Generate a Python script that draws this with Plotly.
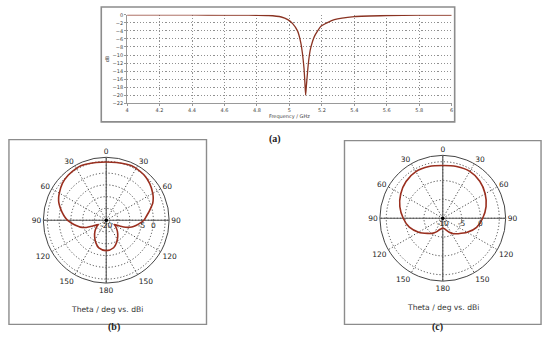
import plotly.graph_objects as go

# ---------------- data ----------------
freq_ghz = [4.0, 4.2, 4.4, 4.6, 4.7, 4.8, 4.87, 4.95, 4.99, 5.02, 5.05, 5.07,
            5.08, 5.09, 5.095, 5.10, 5.105, 5.114, 5.12, 5.13, 5.155, 5.196,
            5.277, 5.4, 5.6, 5.8, 6.0]
s11_db = [-0.02, -0.03, -0.04, -0.06, -0.08, -0.12, -0.18, -0.55, -1.2, -2.2,
          -4.0, -6.9, -9.5, -13.3, -16.5, -20.0, -17.5, -13.3, -11.0, -8.5,
          -5.3, -2.8, -1.2, -0.45, -0.18, -0.1, -0.07]

theta_b = [0, 10, 20, 25, 30, 40, 50, 60, 65, 70, 75, 80, 85, 90, 95, 100, 105,
           110, 113, 116, 118, 121, 125, 135, 145, 155, 165, 180,
           195, 205, 215, 225, 235, 239, 242, 244, 247, 250, 255, 260, 265,
           270, 275, 280, 285, 290, 295, 300, 310, 320, 330, 335, 340, 350, 360]
gain_b = [4.7, 4.9, 5.3, 5.5, 5.4, 5.0, 4.1, 2.8, 2.0, 1.0, -0.5, -1.8, -3.0,
          -4.0, -5.6, -7.2, -8.8, -11.2, -13.5, -15.5, -16.2, -15.6, -15.0,
          -13.3, -11.5, -9.6, -7.9, -7.1,
          -7.8, -9.5, -11.4, -13.2, -15.0, -15.7, -16.2, -15.5, -13.5, -11.0,
          -8.6, -7.0, -5.3, -3.5, -2.2, -1.0, 0.2, 1.4, 2.3, 3.0, 4.3, 5.0,
          5.4, 5.5, 5.3, 4.9, 4.7]

theta_c = [0, 15, 30, 45, 60, 75, 90, 105, 120, 135, 145, 155, 165, 172, 180,
           188, 195, 205, 215, 225, 240, 255, 270, 285, 300, 315, 330, 345, 360]
gain_c = [4.0, 4.2, 4.35, 3.9, 3.0, 1.9, 0.6, -0.7, -2.5, -4.2, -5.0, -5.9,
          -6.8, -7.2, -7.4, -7.2, -6.9, -6.0, -5.1, -4.3, -2.6, -0.8, 0.5,
          1.8, 2.9, 3.8, 4.3, 4.2, 4.0]

angle_tickvals = [0, 30, 60, 90, 120, 150, 180, 210, 240, 270, 300, 330]
angle_ticktext = ['0', '30', '60', '90', '120', '150', '180', '150', '120', '90', '60', '30']

freq_tickvals = [4.0, 4.2, 4.4, 4.6, 4.8, 5.0, 5.2, 5.4, 5.6, 5.8, 6.0]
freq_ticktext = ['4', '4.2', '4.4', '4.6', '4.8', '5', '5.2', '5.4', '5.6', '5.8', '6']
db_tickvals = [0, -2, -4, -6, -8, -10, -12, -14, -16, -18, -20, -22]

range_b = [-20, 6.7]
rtick_b = [-20, -15, -10, -5, 0, 5]
rtext_b = ['-20', '', '', '-5', '0', '']
range_c = [-10, 6.7]
rtick_c = [-10, -5, 0, 5]
rtext_c = ['-10', '-5', '0', '']

# ---------------- styling ----------------
W, H = 550, 349
CURVE = '#9a2f1f'
GRID = '#4a4a4a'
BOX = '#8c8c8c'
FONT = 'DejaVu Sans'
DOTS = '1.2px,2px'


def px(x):
    return x / W


def py(y):
    return 1 - y / H


fig = go.Figure()

# top: S11
fig.add_trace(go.Scatter(x=freq_ghz, y=s11_db, mode='lines',
                         line=dict(color='#8a3322', width=1.3, shape='spline',
                                   smoothing=0.5),
                         xaxis='x', yaxis='y', showlegend=False,
                         hoverinfo='skip'))


def add_polar(sub, theta, gain, rng):
    # solid cross axes
    fig.add_trace(go.Scatterpolar(
        r=[rng[1], rng[0], rng[1], None, rng[1], rng[0], rng[1]],
        theta=[0, 0, 180, None, 90, 90, 270],
        mode='lines', line=dict(color='#555555', width=1.1),
        subplot=sub, showlegend=False, hoverinfo='skip'))
    fig.add_trace(go.Scatterpolar(
        r=gain, theta=theta, mode='lines',
        line=dict(color=CURVE, width=1.6, shape='spline', smoothing=0.8),
        subplot=sub, showlegend=False, hoverinfo='skip'))
    fig.add_trace(go.Scatterpolar(
        r=[rng[0]], theta=[0], mode='markers',
        marker=dict(color='black', size=3.5),
        subplot=sub, showlegend=False, hoverinfo='skip'))


add_polar('polar', theta_b, gain_b, range_b)
add_polar('polar2', theta_c, gain_c, range_c)


def polar_layout(cx, cy, rad, rng, rtv, rtt):
    return dict(
        domain=dict(x=[px(cx - rad), px(cx + rad)], y=[py(cy + rad), py(cy - rad)]),
        bgcolor='white',
        angularaxis=dict(rotation=90, direction='clockwise',
                         tickmode='array', tickvals=angle_tickvals,
                         ticktext=angle_ticktext, ticks='',
                         showgrid=True, gridcolor=GRID, griddash=DOTS,
                         gridwidth=0.9, showline=True, linecolor='#444444',
                         linewidth=1,
                         tickfont=dict(family=FONT, size=7.5, color='#222222')),
        radialaxis=dict(range=rng, tickmode='array', tickvals=rtv,
                        ticktext=rtt, ticks='', showline=False, angle=0,
                        tickangle=0, showgrid=True, gridcolor=GRID,
                        griddash=DOTS, gridwidth=0.9,
                        tickfont=dict(family=FONT, size=7.5, color='#222222')),
    )


shapes = [
    dict(type='rect', xref='paper', yref='paper', x0=px(100), x1=px(456),
         y0=py(121), y1=py(4), line=dict(color=BOX, width=1.6)),
    dict(type='rect', xref='paper', yref='paper', x0=px(7), x1=px(206),
         y0=py(327), y1=py(139), line=dict(color=BOX, width=1.4)),
    dict(type='rect', xref='paper', yref='paper', x0=px(345), x1=px(543),
         y0=py(327), y1=py(140), line=dict(color=BOX, width=1.4)),
]

annotations = [
    dict(text='Theta / deg vs. dBi', x=px(106), y=py(312), xref='paper',
         yref='paper', showarrow=False, xanchor='center', yanchor='middle',
         font=dict(family=FONT, size=7.6, color='#333333')),
    dict(text='Theta / deg vs. dBi', x=px(444), y=py(310), xref='paper',
         yref='paper', showarrow=False, xanchor='center', yanchor='middle',
         font=dict(family=FONT, size=7.6, color='#333333')),
    dict(text='<b>(a)</b>', x=px(275), y=py(138), xref='paper', yref='paper',
         showarrow=False, font=dict(family='Liberation Serif', size=10, color='#222222')),
    dict(text='<b>(b)</b>', x=px(105), y=py(338), xref='paper', yref='paper',
         showarrow=False, font=dict(family='Liberation Serif', size=10, color='#222222')),
    dict(text='<b>(c)</b>', x=px(446), y=py(338), xref='paper', yref='paper',
         showarrow=False, font=dict(family='Liberation Serif', size=10, color='#222222')),
]

fig.update_layout(
    width=W, height=H,
    margin=dict(l=0, r=0, t=0, b=0),
    paper_bgcolor='white', plot_bgcolor='white',
    showlegend=False,
    xaxis=dict(domain=[px(126), px(453)], range=[4, 6], tickmode='array',
               tickvals=freq_tickvals, ticktext=freq_ticktext,
               showgrid=True, gridcolor='#909090', griddash=DOTS, gridwidth=0.8,
               zeroline=False, showline=True, linecolor='#999999', linewidth=1,
               ticks='outside', ticklen=2, tickcolor='#999999',
               tickfont=dict(family=FONT, size=5, color='#444444'),
               title=dict(text='Frequency / GHz', standoff=2,
                          font=dict(family=FONT, size=5, color='#444444'))),
    yaxis=dict(domain=[py(102), py(12)], range=[-22, 0], tickmode='array',
               tickvals=db_tickvals,
               showgrid=True, gridcolor='#909090', griddash=DOTS, gridwidth=0.8,
               zeroline=False, showline=True, linecolor='#999999', linewidth=1,
               ticks='outside', ticklen=2, tickcolor='#999999',
               tickfont=dict(family=FONT, size=5, color='#444444'),
               title=dict(text='dB', standoff=2,
                          font=dict(family=FONT, size=5, color='#444444'))),
    polar=polar_layout(105, 221, 64, range_b, rtick_b, rtext_b),
    polar2=polar_layout(444, 219, 64, range_c, rtick_c, rtext_c),
    shapes=shapes,
    annotations=annotations,
)

fig.write_html('out.html', config={'displayModeBar': False},
               post_script="document.body.style.margin='0';document.body.style.padding='0';")
